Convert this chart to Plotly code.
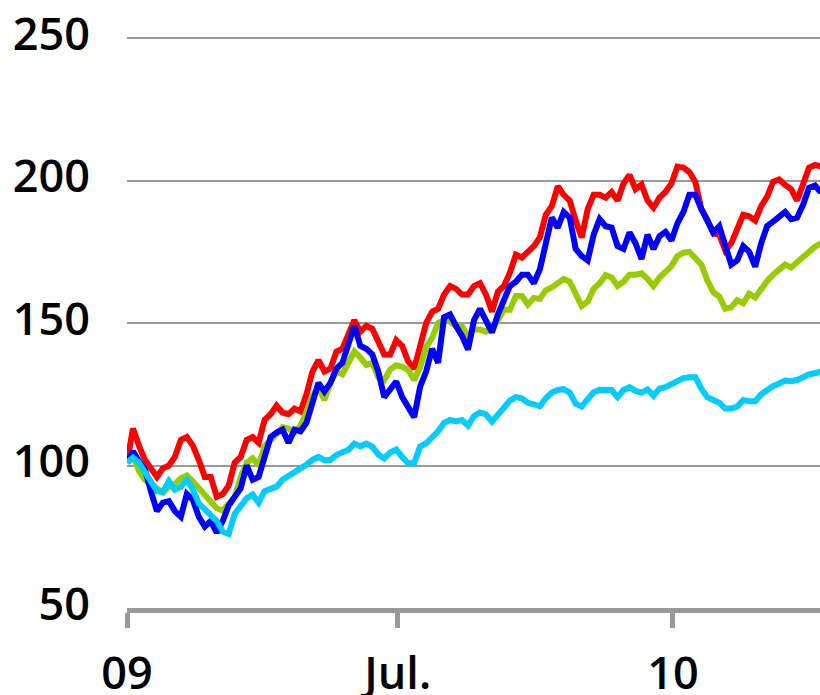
import pandas as pd
import plotly.graph_objects as go

# x axis: one reading every 4 days from the start of 2009
DATES = pd.date_range("2009-01-01", periods=117, freq="4D")

RED = [101, 113, 107, 102, 99, 96, 99, 100, 103, 109,
       110, 107, 102, 96, 96, 89, 90, 93, 101, 103,
       109, 110, 108, 116, 118, 121, 118.6, 118, 120, 119,
       125, 133, 137, 133, 134, 140, 141, 146, 151, 147,
       149, 148, 144, 139, 139, 144, 142, 136.5, 134, 143,
       150, 154, 155, 160, 163, 162, 160, 160, 163, 164,
       160, 154, 161, 163, 167.7, 174, 173, 175, 177, 180,
       188, 191, 198, 195, 193, 186, 180, 190, 195, 195,
       194, 196, 193, 199, 202, 197, 198.6, 193, 190.5, 194,
       196, 199, 204.9, 204.6, 203, 199.5, 190, 186.3, 181.5, 181,
       175.5, 178, 182.8, 188, 187.5, 186, 191, 194.4, 199.6, 200.4,
       198.5, 197, 193, 199, 204.5, 205.5, 205]

BLUE = [101, 105, 101.5, 98.6, 91, 84, 87, 87.5, 84, 82,
        90, 88, 82, 78.6, 80.5, 76.5, 80.5, 86, 89, 92,
        100, 95, 96, 104, 110, 111.6, 112.6, 108, 112.6, 112,
        115, 122, 129, 126, 129, 134, 136, 142.5, 149, 142,
        141, 139, 133, 124, 127, 129.5, 124, 120, 117, 127.7,
        133, 141, 136, 152, 153, 149, 145.5, 140.7, 151, 155,
        151, 146.7, 153, 158.5, 163, 164.5, 167, 167, 164, 168.8,
        177, 187, 183.5, 189, 187, 176, 173.5, 172, 181, 186.5,
        184, 183.5, 177, 176, 181.8, 178, 172.5, 181, 176, 180.5,
        182, 179, 185, 189, 195, 195, 190, 185.5, 181.8, 184,
        177, 170.5, 172, 177, 175, 169.8, 178, 184, 185.6, 187,
        189, 186.5, 187, 191.5, 197.5, 198.3, 195.8]

GREEN = [101, 103.9, 98, 95, 93.5, 92, 90.5, 92.6, 93.5, 95.5,
         96.5, 94.5, 92, 90, 87.5, 85, 84.2, 86.5, 89, 96,
         101, 102.5, 100, 106.7, 108.7, 111, 113.5, 113, 111.6, 114,
         118.6, 124.5, 127.3, 123, 129, 133, 132, 135.5, 140, 137.9,
         135.3, 136, 131, 130, 133.7, 135.2, 134.7, 133.5, 130, 134.5,
         141.5, 144.8, 150, 151, 150.5, 148.8, 148.8, 145.5, 147.7, 147.7,
         147, 148.3, 151, 154.7, 154.7, 159.5, 159.5, 156.5, 158.8, 158.5,
         161.5, 162.5, 164, 165.5, 164.5, 160.5, 156, 157.5, 162, 164,
         166.8, 166, 163, 164.5, 167, 167, 167.5, 165.5, 163, 166,
         168, 170, 173.5, 174.7, 175, 173, 170.5, 165, 160.8, 159.3,
         155, 155.5, 158, 157, 160.3, 159, 162, 164.8, 167, 168.5,
         170.5, 169.5, 171.5, 173, 175.3, 176.8, 178]

CYAN = [101, 102.8, 101, 97.5, 93.5, 91, 90.8, 94.5, 91.5, 92.5,
        95, 91.6, 86.7, 84.8, 82.6, 80.5, 76.8, 76, 83, 86,
        88.5, 89.8, 87, 91, 91.6, 92.6, 95, 96.5, 97.5, 99,
        100.3, 102, 103, 101.8, 102, 103.7, 104.7, 105.5, 107.7, 106.7,
        107.7, 106.6, 103.9, 102.5, 104.6, 105.6, 103, 100.8, 100.8, 106.7,
        107.8, 109.7, 112, 115, 116, 115.5, 116, 114, 117.3, 118.6,
        118, 115.4, 118.2, 120.3, 122.8, 124, 123.6, 122, 121.5, 120.8,
        123.6, 125.6, 126.5, 126.8, 125.6, 121.7, 120.7, 123, 125.7, 126.6,
        126.4, 126.5, 124, 126.5, 127.5, 126.2, 125.6, 126.7, 124.5, 127,
        127.5, 128.5, 129.8, 130.7, 131, 131, 127, 124, 123, 122,
        120, 120, 120.7, 123, 122.6, 122.6, 125, 126.7, 127.9, 128.8,
        129.8, 129.6, 130, 131, 132, 132.4, 133]

X_TICKS = ["2009-01-01", "2009-07-01", "2010-01-01"]
X_TICK_TEXT = ["09", "Jul.", "10"]
Y_TICKS = [50, 100, 150, 200, 250]

SERIES = [
    ("red", RED, "#ff0000"),
    ("green", GREEN, "#99cc00"),
    ("blue", BLUE, "#0000ff"),
    ("cyan", CYAN, "#00ccff"),
]

fig = go.Figure()
for name, vals, color in SERIES:
    fig.add_trace(go.Scatter(
        x=DATES, y=vals, mode="lines", name=name,
        line=dict(color=color, width=6),
        hoverinfo="skip",
    ))

FONT = dict(family="Open Sans", size=45, color="#000000", weight=600)

fig.update_layout(
    width=820, height=695,
    margin=dict(l=127, r=0, t=37, b=87),
    paper_bgcolor="white", plot_bgcolor="white",
    showlegend=False,
    xaxis=dict(
        type="date",
        range=["2009-01-01", "2010-04-09 08:00"],
        tickvals=X_TICKS, ticktext=X_TICK_TEXT,
        ticks="outside", ticklen=15, tickwidth=5, tickcolor="#999999",
        showline=True, linewidth=5, linecolor="#999999",
        showgrid=False, zeroline=False, automargin=False,
        tickfont=FONT, ticklabelstandoff=7,
    ),
    yaxis=dict(
        range=[50, 250.4],
        tickvals=Y_TICKS,
        ticks="", showline=False,
        showgrid=True, gridcolor="#999999", gridwidth=2,
        zeroline=False, automargin=False,
        tickfont=FONT, ticklabelstandoff=36, ticklabelshift=-4,
    ),
)

fig.write_html(
    "out.html",
    config={"displayModeBar": False, "staticPlot": True},
    post_script="document.body.style.margin='0';document.body.style.overflow='hidden';",
)
